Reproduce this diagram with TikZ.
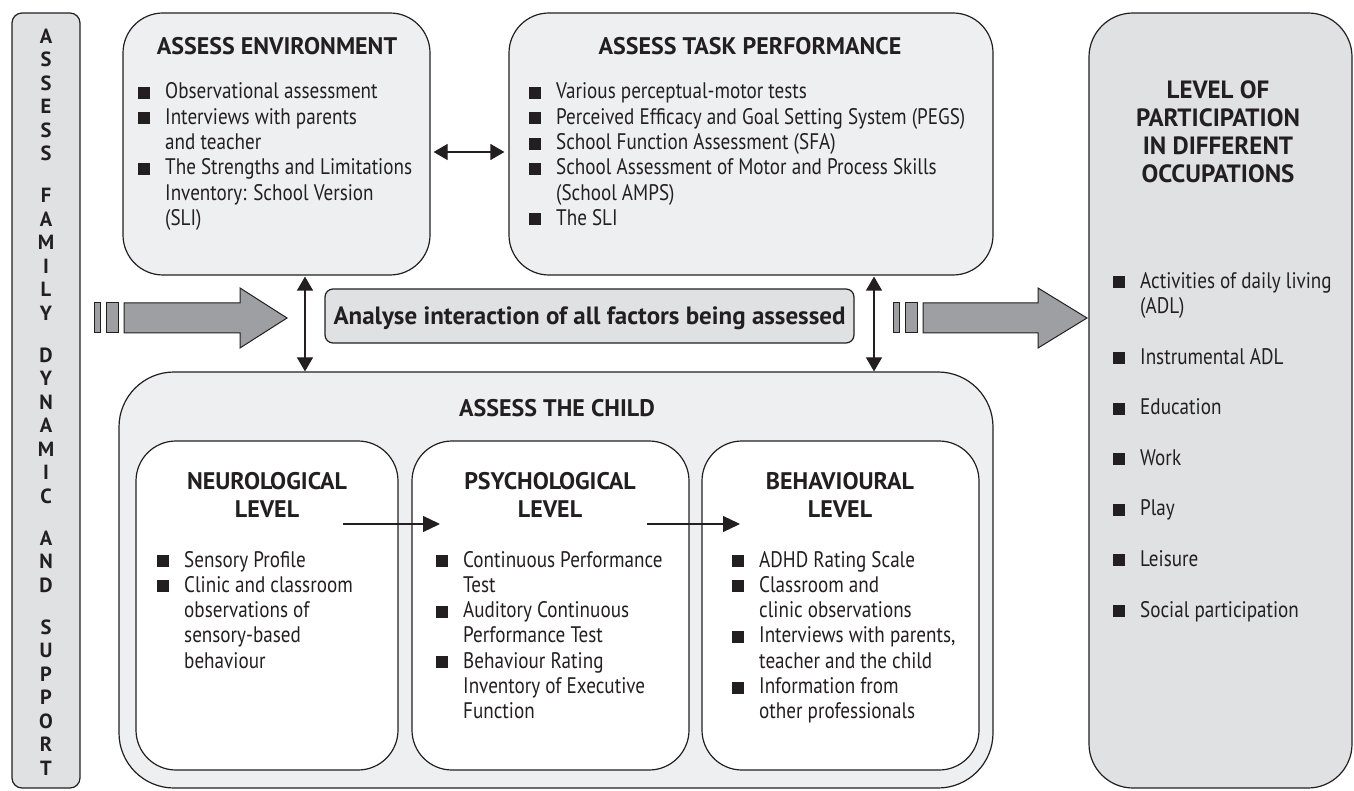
\documentclass[tikz,border=0pt]{standalone}
\usepackage{fontspec}
\setmainfont{PT Sans}[UprightFeatures={FakeStretch=0.85}, BoldFeatures={FakeStretch=1.0}]
\usepackage{tikz}
\usetikzlibrary{arrows.meta, positioning}

\definecolor{inkline}{HTML}{231F20}
\definecolor{paleFill}{HTML}{EEEFF0}
\definecolor{greyFill}{HTML}{E0E1E3}
\definecolor{arrowFill}{HTML}{9D9FA2}

\newcommand{\bodyfont}{\fontsize{22.5}{25.3}\selectfont}
\newcommand{\titlefont}{\fontsize{24}{28}\selectfont\bfseries}
\newcommand{\sqb}{\makebox[27pt][l]{\rule{12pt}{12pt}}}
\newcommand{\contd}{\hspace*{27pt}}

\begin{document}
\begin{tikzpicture}[
    x=1pt, y=-1pt,
    color=inkline,
    % boxes
    panel_box/.style={draw=inkline, fill=paleFill, line width=1.2pt, rounded corners=40pt, inner sep=0pt},
    grey_box/.style={draw=inkline, fill=greyFill, line width=1.2pt, inner sep=0pt},
    level_box/.style={draw=inkline, fill=white, line width=1.2pt, rounded corners=40pt, inner sep=0pt},
    % texts (anchor base = baseline of the last line)
    box_title/.style={font=\titlefont, align=center, inner sep=0pt, anchor=base},
    item_list/.style={font=\bodyfont, align=left, inner sep=0pt, anchor=base west},
    % connectors
    dbl_arrow/.style={line width=1.2pt, {Triangle[length=14pt, width=16pt]}-{Triangle[length=14pt, width=16pt]}},
    step_arrow/.style={line width=1.2pt, -{Triangle[length=17pt, width=16pt]}},
    big_arrow/.style={draw=inkline, fill=arrowFill, line width=1pt}
]
\useasboundingbox (0,0) rectangle (1354,791);

% --- 1. Side boxes ---

\node[grey_box, rounded corners=10pt, minimum width=68pt, minimum height=775pt] (famBar) at (46,400.5) {};
\node[font=\fontsize{20.5}{23.5}\selectfont\bfseries, align=center, inner sep=0pt, anchor=base] (famText) at (46,775)
    {A\\S\\S\\E\\S\\S\\[18.5pt]F\\A\\M\\I\\L\\Y\\[18.5pt]D\\Y\\N\\A\\M\\I\\C\\[18.5pt]A\\N\\D\\[18.5pt]S\\U\\P\\P\\O\\R\\T};

\node[grey_box, rounded corners=44pt, minimum width=263pt, minimum height=775pt] (partBox) at (1220.5,400.5) {};
\node[box_title, font=\fontsize{25}{28}\selectfont\bfseries] (partTitle) at (1218,183)
    {LEVEL OF\\PARTICIPATION\\IN DIFFERENT\\OCCUPATIONS};
\node[item_list] (partList) at (1113,617)
    {\sqb Activities of daily living\\ \contd (ADL)\\[25.3pt]
     \sqb Instrumental ADL\\[25.3pt]
     \sqb Education\\[25.3pt]
     \sqb Work\\[25.3pt]
     \sqb Play\\[25.3pt]
     \sqb Leisure\\[25.3pt]
     \sqb Social participation};

% --- 2. Environment and task ---

\node[panel_box, minimum width=307pt, minimum height=262pt] (envBox) at (276.5,144) {};
\node[box_title] (envTitle) at (277,55) {ASSESS ENVIRONMENT};
\node[item_list] (envList) at (138,225.5)
    {\sqb Observational assessment\\
     \sqb Interviews with parents\\ \contd and teacher\\
     \sqb The Strengths and Limitations\\ \contd Inventory: School Version\\ \contd (SLI)};

\node[panel_box, minimum width=484pt, minimum height=262pt] (taskBox) at (751,144) {};
\node[box_title] (taskTitle) at (750,55) {ASSESS TASK PERFORMANCE};
\node[item_list] (taskList) at (529,225.5)
    {\sqb Various perceptual-motor tests\\
     \sqb Perceived Efficacy and Goal Setting System (PEGS)\\
     \sqb School Function Assessment (SFA)\\
     \sqb School Assessment of Motor and Process Skills\\ \contd (School AMPS)\\
     \sqb The SLI};

\draw[dbl_arrow, shorten <=3pt, shorten >=4pt] ([yshift=-8pt]envBox.east) -- ([yshift=-8pt]taskBox.west);

% --- 3. Analyse box and flow arrows ---

\node[grey_box, rounded corners=8pt, minimum width=529pt, minimum height=54pt] (analyseBox) at (589.5,316) {};
\node[box_title, font=\fontsize{25}{28}\selectfont\bfseries] (analyseText) at (589.5,325) {Analyse interaction of all factors being assessed};

% in-flow arrow
\draw[big_arrow] (94,303) rectangle (100,333);
\draw[big_arrow] (106,303) rectangle (118,333);
\draw[big_arrow] (124,303) -- (240,303) -- (240,288) -- (287,318) -- (240,348) -- (240,333) -- (124,333) -- cycle;
% out-flow arrow
\draw[big_arrow] (893,303) rectangle (899,333);
\draw[big_arrow] (905,303) rectangle (917,333);
\draw[big_arrow] (923,303) -- (1038,303) -- (1038,288) -- (1087,318) -- (1038,348) -- (1038,333) -- (923,333) -- cycle;

% --- 4. The child ---

\node[panel_box, rounded corners=55pt, minimum width=874pt, minimum height=416pt] (childBox) at (556,580) {};
\node[box_title] (childTitle) at (557,416) {ASSESS THE CHILD};

\coordinate (lx) at (305,0);
\coordinate (rx) at (874,0);
\draw[dbl_arrow, shorten <=1pt] (lx |- envBox.south) -- (lx |- childBox.north);
\draw[dbl_arrow, shorten <=1pt] (rx |- taskBox.south) -- (rx |- childBox.north);

\node[level_box, minimum width=262pt, minimum height=329pt] (neuroBox) at (267,605.5) {};
\node[level_box, minimum width=277pt, minimum height=329pt] (psychBox) at (550.5,605.5) {};
\node[level_box, minimum width=277pt, minimum height=329pt] (behavBox) at (840.5,605.5) {};

\node[box_title] (neuroTitle) at (267,517) {NEUROLOGICAL\\LEVEL};
\node[box_title] (psychTitle) at (550,517) {PSYCHOLOGICAL\\LEVEL};
\node[box_title] (behavTitle) at (840,517) {BEHAVIOURAL\\LEVEL};

\node[item_list] (neuroList) at (157,668.2)
    {\sqb Sensory Profile\\
     \sqb Clinic and classroom\\ \contd observations of\\ \contd sensory-based\\ \contd behaviour};
\node[item_list] (psychList) at (436,718.8)
    {\sqb Continuous Performance\\ \contd Test\\
     \sqb Auditory Continuous\\ \contd Performance Test\\
     \sqb Behaviour Rating\\ \contd Inventory of Executive\\ \contd Function};
\node[item_list] (behavList) at (732,718.8)
    {\sqb ADHD Rating Scale\\
     \sqb Classroom and\\ \contd clinic observations\\
     \sqb Interviews with parents,\\ \contd teacher and the child\\
     \sqb Information from\\ \contd other professionals};

\coordinate (n2pA) at (343,524);
\coordinate (n2pB) at (440,524);
\coordinate (p2bA) at (647,524);
\coordinate (p2bB) at (740,524);
\draw[step_arrow] (n2pA) -- (n2pB);
\draw[step_arrow] (p2bA) -- (p2bB);

\end{tikzpicture}
\end{document}
